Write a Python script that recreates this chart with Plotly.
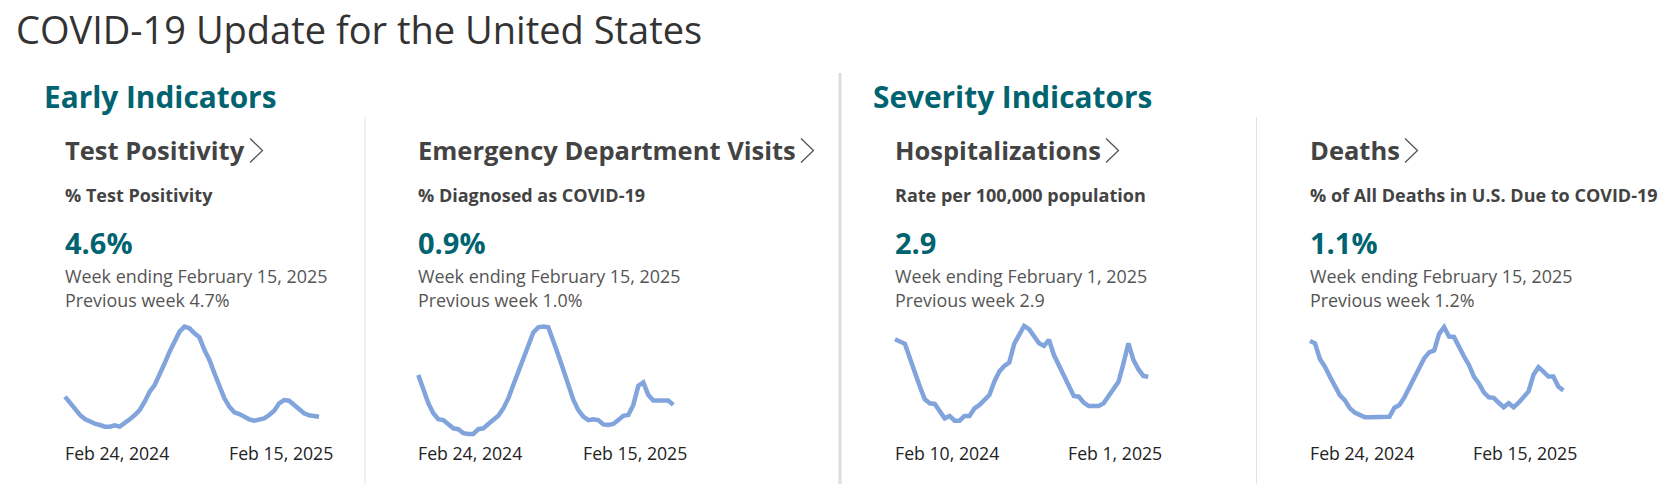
import pandas as pd
import plotly.graph_objects as go

W, H = 1665, 484          # page size
FONT = "Open Sans"
TEAL = "#00636f"
DARK = "#434343"
GRAY = "#555555"
LINE = "#82a4dc"

# ---------------- data ----------------
panel_titles = ["Test Positivity", "Emergency Department Visits", "Hospitalizations", "Deaths"]
panel_subtitles = ["% Test Positivity", "% Diagnosed as COVID-19",
                   "Rate per 100,000 population", "% of All Deaths in U.S. Due to COVID-19"]
panel_values = ["4.6%", "0.9%", "2.9", "1.1%"]
panel_weeks = ["Week ending February 15, 2025", "Week ending February 15, 2025",
               "Week ending February 1, 2025", "Week ending February 15, 2025"]
panel_prev = ["Previous week 4.7%", "Previous week 1.0%", "Previous week 2.9", "Previous week 1.2%"]
start_dates = ["2024-02-24", "2024-02-24", "2024-02-10", "2024-02-24"]
start_labels = ["Feb 24, 2024", "Feb 24, 2024", "Feb 10, 2024", "Feb 24, 2024"]
end_labels = ["Feb 15, 2025", "Feb 15, 2025", "Feb 1, 2025", "Feb 15, 2025"]

test_positivity = [7.6, 6.6, 5.6, 4.85, 4.25, 3.85, 3.55, 3.35, 3.1, 3.1, 3.3, 3.1, 3.6,
                   4.2, 4.85, 5.6, 6.85, 8.35, 9.35, 10.85, 12.6, 14.35, 15.85, 17.35,
                   18.1, 17.85, 17.1, 16.5, 14.6, 13.1, 11.1, 9.1, 7.35, 6.1, 5.25, 5.0,
                   4.6, 4.2, 4.0, 4.2, 4.35, 4.85, 5.5, 6.6, 7.1, 7.0, 6.35, 5.7, 5.1,
                   4.8, 4.7, 4.6]
ed_visits = [1.59, 1.25, 0.94, 0.71, 0.57, 0.55, 0.46, 0.36, 0.34, 0.25, 0.23, 0.23, 0.34,
             0.36, 0.46, 0.55, 0.65, 0.82, 1.05, 1.36, 1.67, 2.02, 2.32, 2.57, 2.69, 2.71,
             2.69, 2.40, 2.05, 1.71, 1.32, 1.02, 0.78, 0.63, 0.55, 0.57, 0.55, 0.45, 0.44,
             0.46, 0.55, 0.65, 0.67, 0.90, 1.34, 1.42, 1.13, 1.00, 1.00, 1.00, 1.00, 0.90]
hospitalizations = [4.30, 4.21, 4.13, 3.59, 3.03, 2.53, 2.05, 1.90, 1.88, 1.63, 1.34, 1.43,
                    1.25, 1.25, 1.43, 1.43, 1.71, 1.84, 2.00, 2.21, 2.71, 3.09, 3.30, 3.43,
                    4.13, 4.43, 4.80, 4.68, 4.40, 4.15, 4.05, 4.28, 3.71, 3.34, 2.96, 2.59,
                    2.18, 2.15, 1.93, 1.80, 1.80, 1.80, 1.90, 2.18, 2.43, 2.71, 3.40, 4.15,
                    3.53, 3.18, 2.93, 2.90]
deaths = [2.2, 2.15, 1.8, 1.63, 1.41, 1.19, 1.0, 0.89, 0.71, 0.61, 0.56, 0.51, 0.51, 0.51,
          0.51, 0.51, 0.52, 0.72, 0.78, 0.95, 1.15, 1.37, 1.6, 1.82, 1.95, 1.99, 2.36, 2.51,
          2.3, 2.29, 2.06, 1.86, 1.67, 1.41, 1.26, 1.06, 0.95, 0.94, 0.83, 0.73, 0.82, 0.73,
          0.83, 0.95, 1.08, 1.45, 1.62, 1.52, 1.41, 1.41, 1.19, 1.1]
series = [test_positivity, ed_visits, hospitalizations, deaths]
y_ranges = [[1.55, 18.65], [0.16, 2.79], [0.64, 4.91], [0.07, 2.60]]

# ---------------- layout geometry (page pixels) ----------------
panel_x = [65, 417.5, 895, 1309.5]
line_x0 = [65, 418.3, 895, 1310]
line_x1 = [319, 673.3, 1148.3, 1563.3]
chev_x = [250, 801, 1106, 1405]
plot_top, plot_bot = 323, 437
PAD = 4


def px(x):
    return x / W


def py(y):
    return 1 - y / H


fig = go.Figure()
annotations = []
shapes = []


def text(x, y, s, size, color, bold=False, anchor="left", xref="paper", xshift=0):
    annotations.append(dict(
        x=x if xref != "paper" else px(x), y=py(y), xref=xref, yref="paper",
        text=s, showarrow=False, xanchor=anchor, yanchor="middle",
        borderpad=0, borderwidth=0, xshift=xshift,
        font=dict(family=FONT, size=size, color=color, weight=700 if bold else 400)))


text(15.5, 29, "COVID-19 Update for the United States", 38, "#333333")
text(43.5, 96, "Early Indicators", 29.8, TEAL, bold=True)
text(873, 96, "Severity Indicators", 29.8, TEAL, bold=True)

# separators
shapes.append(dict(type="line", xref="paper", yref="paper", x0=px(840), x1=px(840),
                   y0=py(73), y1=py(H), line=dict(color="#dddddd", width=3)))
for sx in [365, 1256.5]:
    shapes.append(dict(type="line", xref="paper", yref="paper", x0=px(sx), x1=px(sx),
                       y0=py(117), y1=py(H), line=dict(color="#e3e3e3", width=1)))

for i in range(4):
    n = len(series[i])
    dates = pd.date_range(start_dates[i], periods=n, freq="7D")
    ax = "" if i == 0 else str(i + 1)
    xa, ya = "x" + ax, "y" + ax
    fig.add_trace(go.Scatter(x=dates, y=series[i], mode="lines", xaxis=xa, yaxis=ya,
                             line=dict(color=LINE, width=4.5), hoverinfo="skip",
                             showlegend=False))
    days_per_px = (dates[-1] - dates[0]) / (line_x1[i] - line_x0[i])
    rng = [dates[0] - PAD * days_per_px, dates[-1] + PAD * days_per_px]
    fig.layout["xaxis" + ax] = dict(domain=[px(line_x0[i] - PAD), px(line_x1[i] + PAD)],
                                    range=rng, visible=False, anchor=ya, fixedrange=True)
    fig.layout["yaxis" + ax] = dict(domain=[py(plot_bot), py(plot_top)], range=y_ranges[i],
                                    visible=False, anchor=xa, fixedrange=True)

    x0 = panel_x[i]
    text(x0, 150.5, panel_titles[i], 25.5, DARK, bold=True)
    text(x0, 194.5, panel_subtitles[i], 18, DARK, bold=True)
    text(x0, 242.5, panel_values[i], 29, TEAL, bold=True)
    text(x0, 276.3, panel_weeks[i], 17.9, GRAY)
    text(x0, 299.8, panel_prev[i], 17.9, GRAY)
    # date labels, positioned through the sparkline's own x scale
    text(dates[0], 453, start_labels[i], 17.7, "#222222", xref=xa, anchor="left")
    text(dates[-1], 453, end_labels[i], 17.7, "#222222", xref=xa, anchor="right", xshift=14)
    # chevron
    cx = chev_x[i]
    shapes.append(dict(type="path", xref="paper", yref="paper",
                       path="M {:.5f},{:.5f} L {:.5f},{:.5f} L {:.5f},{:.5f}".format(
                           px(cx), py(138.5), px(cx + 12.5), py(150.5), px(cx), py(162.5)),
                       line=dict(color="#555555", width=1.3)))

fig.update_layout(width=W, height=H, margin=dict(l=0, r=0, t=0, b=0),
                  paper_bgcolor="white", plot_bgcolor="white",
                  annotations=annotations, shapes=shapes, showlegend=False)
fig.write_html("out.html", config={"displayModeBar": False},
               post_script="document.body.style.margin='0';document.body.style.overflow='hidden';")
